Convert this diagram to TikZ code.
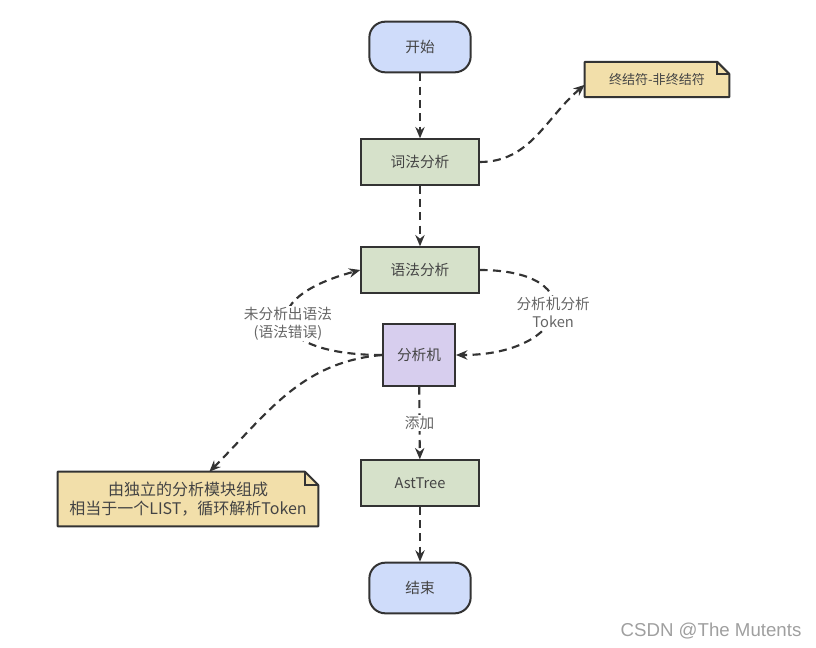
\documentclass[tikz,border=0pt]{standalone}
\usepackage{fontspec}
\newfontfamily\cjk{Noto Sans CJK SC}
\newfontfamily\wmfont{Liberation Sans}
\usetikzlibrary{arrows.meta,calc,backgrounds}
\definecolor{flowInk}{HTML}{333333}
\definecolor{flowText}{HTML}{444444}
\definecolor{flowLabel}{HTML}{666666}
\definecolor{flowBlue}{HTML}{CFDCFA}
\definecolor{flowGreen}{HTML}{D6E1CA}
\definecolor{flowPurple}{HTML}{D7CEEE}
\definecolor{flowNote}{HTML}{F2DFAA}
\tikzset{
  every picture/.style={font=\cjk\fontsize{11}{13.5}\selectfont, text=flowText},
  flow term/.style={draw=flowInk, line width=1.5pt, fill=flowBlue,
    rounded corners=12pt, minimum width=76pt, minimum height=38pt},
  flow step/.style={draw=flowInk, line width=1.5pt, fill=flowGreen,
    minimum width=88pt, minimum height=34pt},
  flow core/.style={draw=flowInk, line width=1.5pt, fill=flowPurple,
    minimum width=54pt, minimum height=46pt},
  flow note/.style={align=center, inner sep=0pt},
  flow arrow/.style={-{Stealth[length=8.5pt,width=7pt]}, draw=flowInk,
    line width=1.6pt, dash pattern=on 6pt off 4pt},
  flow label/.style={text=flowLabel, fill=white, align=center, inner sep=1pt}
}
% folded note outline round a node
\newcommand\notefold[2]{%
  \filldraw[draw=flowInk, line width=1.5pt, fill=flowNote, line join=round]
    (#1.south west) -- (#1.north west) -- ($(#1.north east)+(-#2,0)$)
    -- ($(#1.north east)+(0,-#2)$) -- (#1.south east) -- cycle;
  \draw[flowInk, line width=1.2pt] ($(#1.north east)+(-#2,0)$) |- ($(#1.north east)+(0,-#2)$);
}

\begin{document}
\begin{tikzpicture}[x=0.75pt,y=-0.75pt]
  \useasboundingbox (0,0) rectangle (816,648);
  % main flow
  \node[flow term] (start) at (420,47) {开始};
  \node[flow step] (lex) at (420,162) {词法分析};
  \node[flow step] (syn) at (420,270) {语法分析};
  \node[flow core] (eng) at (419,355) {分析机};
  \node[flow step] (ast) at (420,483) {AstTree};
  \node[flow term] (fin) at (420,588) {结束};
  % notes
  \node[flow note, minimum width=108pt, minimum height=26pt,
    font=\cjk\fontsize{9.8}{12}\selectfont] (note1) at (657,79.5) {终结符-非终结符};
  \node[flow note, minimum width=195pt, minimum height=40.5pt,
    font=\cjk\fontsize{12}{14.5}\selectfont] (note2) at (188,499)
    {由独立的分析模块组成\\相当于一个LIST，循环解析Token};
  \begin{scope}[on background layer]
    \notefold{note1}{9pt}
    \notefold{note2}{10pt}
  \end{scope}
  % connectors
  \draw[flow arrow] (start) -- (lex);
  \draw[flow arrow] (lex) -- (syn);
  \draw[flow arrow] (eng) -- node[flow label] {添加} (ast);
  \draw[flow arrow] (ast) -- (fin);
  \draw[flow arrow] (lex.east) to[out=0,in=220] ([yshift=-4pt]note1.west);
  \draw[flow arrow] (eng.west) to[out=180,in=195,looseness=3.3]
    node[flow label] {未分析出语法\\(语法错误)} (syn.west);
  \draw[flow arrow] (syn.east) to[out=0,in=0,looseness=3.3]
    node[flow label] {分析机分析\\Token} (eng.east);
  \draw[flow arrow] (eng.west) to[out=185,in=45] ([xshift=16pt]note2.north);
  % watermark
  \node[font=\wmfont\fontsize{14}{16}\selectfont, text=gray!75] (mark) at (711,631) {CSDN @The Mutents};
\end{tikzpicture}
\end{document}
